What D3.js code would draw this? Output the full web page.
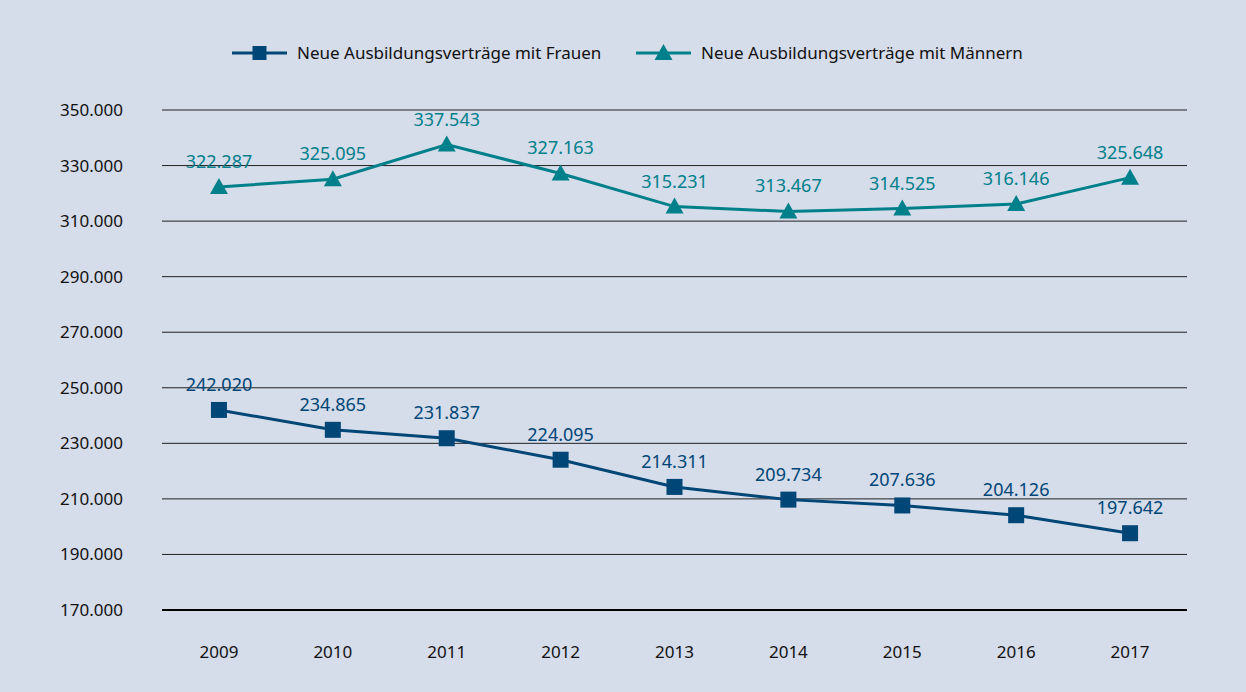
<!DOCTYPE html>
<html>
<head>
<meta charset="utf-8">
<script src="https://cdn.jsdelivr.net/npm/d3@7"></script>
<style>
  body { margin: 0; background: #d5dcea; }
  svg { display: block; font-family: "Noto Sans", sans-serif; }
</style>
</head>
<body>
<svg id="chart"></svg>
<script>
const years = ["2009", "2010", "2011", "2012", "2013", "2014", "2015", "2016", "2017"];
const frauen = [242020, 234865, 231837, 224095, 214311, 209734, 207636, 204126, 197642];
const maenner = [322287, 325095, 337543, 327163, 315231, 313467, 314525, 316146, 325648];
const yTicks = [170000, 190000, 210000, 230000, 250000, 270000, 290000, 310000, 330000, 350000];

const W = 1246, H = 692;
const margin = { top: 110, right: 59, bottom: 82, left: 162 },
    width = W - margin.left - margin.right,
    height = H - margin.top - margin.bottom;

const cFrauen = "#004677", cMaenner = "#00808a";
const fmt = d => d3.format(",")(d).replace(/,/g, ".");

const svg = d3.select("#chart").attr("width", W).attr("height", H);
svg.append("rect").attr("width", W).attr("height", H).attr("fill", "#d5dcea");

const g = svg.append("g").attr("transform", `translate(${margin.left},${margin.top})`);

const x = d3.scaleBand().domain(years).range([0, width]);
const y = d3.scaleLinear().domain([170000, 350000]).range([height, 0]);

// gridlines
g.selectAll(".grid")
    .data(yTicks)
    .join("line")
    .attr("class", "grid")
    .attr("x1", 0).attr("x2", width)
    .attr("y1", d => y(d)).attr("y2", d => y(d))
    .attr("stroke", d => d === 170000 ? "#000" : "#222")
    .attr("stroke-width", d => d === 170000 ? 2 : 1);

// y axis
const yAxis = g.append("g")
    .call(d3.axisLeft(y).tickValues(yTicks).tickFormat(fmt).tickSize(0).tickPadding(39));
yAxis.select(".domain").remove();
yAxis.selectAll("text").attr("font-size", "17px").attr("fill", "#111")
    .attr("font-family", "Noto Sans, sans-serif");

// x axis
const xAxis = g.append("g")
    .attr("transform", `translate(0,${height})`)
    .call(d3.axisBottom(x).tickSize(0).tickPadding(36));
xAxis.select(".domain").remove();
xAxis.selectAll("text").attr("font-size", "17px").attr("fill", "#111")
    .attr("font-family", "Noto Sans, sans-serif");

const cx = d => x(d) + x.bandwidth() / 2;
const line = d3.line().x((d, i) => cx(years[i])).y(d => y(d));

function series(vals, color, shape) {
    g.append("path")
        .datum(vals)
        .attr("fill", "none")
        .attr("stroke", color)
        .attr("stroke-width", 3)
        .attr("d", line);

    g.selectAll(".m-" + shape)
        .data(vals)
        .join("path")
        .attr("class", "m-" + shape)
        .attr("transform", (d, i) => `translate(${cx(years[i])},${y(d)})`)
        .attr("d", shape === "square"
            ? "M-8,-8H8V8H-8Z"
            : "M0,-9L9,7H-9Z")
        .attr("fill", color);

    g.selectAll(".l-" + shape)
        .data(vals)
        .join("text")
        .attr("class", "l-" + shape)
        .attr("x", (d, i) => cx(years[i]))
        .attr("y", d => y(d) - 19)
        .attr("text-anchor", "middle")
        .attr("font-size", "18px")
        .attr("fill", color)
        .text(fmt);
}

series(maenner, cMaenner, "triangle");
series(frauen, cFrauen, "square");

// legend
const legend = svg.append("g").attr("transform", "translate(0,53)");
const items = [
    { label: "Neue Ausbildungsverträge mit Frauen", color: cFrauen, shape: "square", x: 232 },
    { label: "Neue Ausbildungsverträge mit Männern", color: cMaenner, shape: "triangle", x: 636 }
];
items.forEach(it => {
    const li = legend.append("g").attr("transform", `translate(${it.x},0)`);
    li.append("line").attr("x1", 0).attr("x2", 55).attr("y1", 0).attr("y2", 0)
        .attr("stroke", it.color).attr("stroke-width", 3);
    li.append("path")
        .attr("transform", "translate(27.5,0)")
        .attr("d", it.shape === "square" ? "M-7,-7H7V7H-7Z" : "M0,-9L9,7H-9Z")
        .attr("fill", it.color);
    li.append("text").attr("x", 65).attr("y", 0).attr("dy", "0.35em")
        .attr("font-size", "17px").attr("fill", "#111").text(it.label);
});
</script>
</body>
</html>
